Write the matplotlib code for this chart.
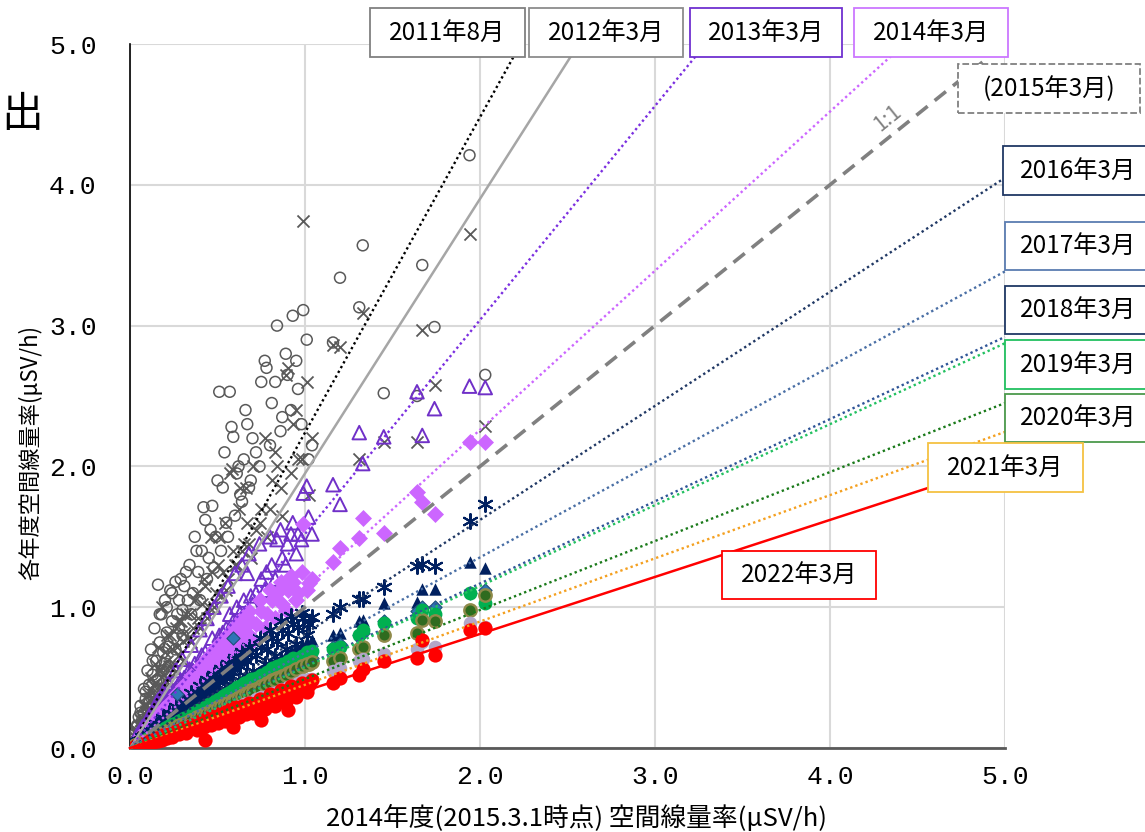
import matplotlib
matplotlib.use("Agg")
import matplotlib.pyplot as plt
from matplotlib.patches import Rectangle

plt.rcParams['font.family'] = ['Noto Sans CJK JP', 'DejaVu Sans']

# ---------------- data ----------------
# 2014年度(2015.3.1時点) 空間線量率 (shared x for all series)
x_2015 = [0.02, 0.03, 0.04, 0.05, 0.05, 0.06, 0.07, 0.08, 0.08, 0.09,
          0.10, 0.10, 0.11, 0.12, 0.12, 0.13, 0.14, 0.14, 0.15, 0.16,
          0.16, 0.17, 0.18, 0.18, 0.19, 0.20, 0.20, 0.21, 0.22, 0.23,
          0.24, 0.25, 0.26, 0.27, 0.28, 0.29, 0.30, 0.31, 0.33, 0.34,
          0.36, 0.37, 0.39, 0.41, 0.43, 0.45, 0.47, 0.49, 0.51, 0.53,
          0.55, 0.57, 0.59, 0.61, 0.63, 0.65, 0.67, 0.69, 0.72, 0.75,
          0.78, 0.81, 0.84, 0.87, 0.90, 0.93, 0.96, 0.99, 1.02, 1.16,
          1.20, 1.31, 1.33, 1.45, 1.64, 1.67, 1.74, 1.94, 2.03,
          0.04, 0.06, 0.07, 0.09, 0.11, 0.13, 0.15, 0.17, 0.19, 0.21,
          0.22, 0.24, 0.26, 0.28, 0.30, 0.32, 0.35, 0.38, 0.40, 0.42,
          0.44, 0.46, 0.48, 0.50, 0.52, 0.54, 0.56, 0.58, 0.60, 0.62,
          0.64, 0.66, 0.68, 0.70, 0.74, 0.77, 0.80, 0.83, 0.86, 0.89,
          0.92, 0.95, 0.98, 1.01, 1.04]

y_2011_08 = [0.06, 0.10, 0.15, 0.22, 0.12, 0.30, 0.20, 0.42, 0.25, 0.35,
             0.55, 0.28, 0.45, 0.70, 0.36, 0.52, 0.85, 0.40, 0.62, 1.16,
             0.48, 0.75, 0.95, 0.55, 0.68, 1.05, 0.60, 0.82, 0.72, 1.12,
             0.90, 0.78, 1.18, 0.95, 0.85, 1.20, 0.98, 1.15, 1.05, 1.30,
             1.10, 1.50, 1.25, 1.40, 1.62, 1.35, 1.72, 1.50, 2.53, 1.85,
             1.60, 2.53, 2.21, 1.95, 1.80, 2.05, 2.30, 1.90, 2.10, 2.60,
             2.70, 2.45, 3.00, 2.35, 2.65, 3.07, 2.55, 3.11, 2.05, 2.88,
             3.34, 3.13, 3.57, 2.52, 2.50, 3.43, 2.99, 4.21, 2.65,
             0.16, 0.25, 0.18, 0.40, 0.32, 0.62, 0.48, 0.95, 0.55, 1.00,
             0.58, 1.10, 0.70, 1.05, 0.80, 1.25, 0.95, 1.40, 1.05, 1.71,
             1.20, 1.55, 1.28, 1.90, 1.40, 2.10, 1.50, 2.28, 1.65, 2.00,
             1.75, 2.40, 1.85, 2.20, 2.00, 2.75, 2.15, 2.60, 2.25, 2.80,
             2.40, 2.75, 2.30, 2.90, 2.15]

y_2012_03 = [0.05, 0.08, 0.12, 0.16, 0.10, 0.22, 0.16, 0.30, 0.20, 0.26,
             0.38, 0.22, 0.34, 0.50, 0.28, 0.40, 0.60, 0.32, 0.46, 0.72,
             0.38, 0.56, 1.00, 0.44, 0.52, 0.68, 0.48, 0.62, 0.58, 0.80,
             0.70, 0.60, 0.85, 0.72, 0.66, 0.90, 0.76, 0.82, 0.78, 0.95,
             0.85, 1.05, 0.92, 1.02, 1.15, 1.00, 1.25, 1.10, 1.50, 1.25,
             1.12, 1.95, 1.40, 1.30, 1.85, 1.45, 1.60, 1.35, 1.55, 1.70,
             1.50, 1.90, 2.00, 1.65, 2.70, 2.30, 2.05, 3.74, 1.80, 2.86,
             2.85, 2.05, 3.09, 2.17, 2.17, 2.97, 2.58, 3.65, 2.29,
             0.12, 0.20, 0.14, 0.30, 0.25, 0.45, 0.36, 0.55, 0.42, 0.80,
             0.48, 0.70, 0.55, 0.90, 0.62, 0.95, 0.75, 1.10, 0.85, 1.20,
             0.92, 1.50, 1.00, 1.30, 1.08, 1.60, 1.20, 1.98, 1.30, 1.70,
             1.40, 1.85, 1.45, 2.00, 1.60, 2.20, 1.70, 2.10, 1.85, 2.65,
             1.95, 2.40, 2.05, 2.60, 2.20]

y_2013_03 = [0.04, 0.06, 0.09, 0.11, 0.07, 0.13, 0.11, 0.16, 0.13, 0.15,
             0.20, 0.15, 0.19, 0.24, 0.18, 0.22, 0.28, 0.21, 0.26, 0.34,
             0.24, 0.29, 0.36, 0.28, 0.31, 0.38, 0.30, 0.34, 0.35, 0.40,
             0.38, 0.36, 0.42, 0.44, 0.41, 0.48, 0.45, 0.50, 0.50, 0.56,
             0.55, 0.60, 0.58, 0.66, 0.68, 0.66, 0.78, 0.72, 0.80, 0.82,
             0.85, 0.95, 0.90, 1.00, 0.96, 1.05, 1.24, 1.08, 1.10, 1.20,
             1.25, 1.30, 1.48, 1.35, 1.45, 1.60, 1.52, 1.81, 1.64, 1.87,
             1.73, 2.24, 2.02, 2.21, 2.53, 2.22, 2.41, 2.57, 2.56,
             0.09, 0.09, 0.15, 0.13, 0.23, 0.19, 0.32, 0.25, 0.40, 0.30,
             0.46, 0.35, 0.55, 0.41, 0.63, 0.46, 0.73, 0.55, 0.84, 0.61,
             0.92, 0.67, 1.00, 0.73, 1.08, 0.78, 1.15, 0.84, 1.24, 0.90,
             1.30, 0.96, 1.38, 1.02, 1.45, 1.12, 1.50, 1.20, 1.55, 1.30,
             1.52, 1.38, 1.48, 1.86, 1.52]

y_2014_03 = [0.03, 0.04, 0.05, 0.06, 0.07, 0.08, 0.08, 0.10, 0.09, 0.11,
             0.13, 0.11, 0.14, 0.15, 0.14, 0.16, 0.18, 0.16, 0.19, 0.21,
             0.19, 0.21, 0.24, 0.21, 0.24, 0.27, 0.24, 0.27, 0.28, 0.31,
             0.30, 0.33, 0.33, 0.36, 0.35, 0.38, 0.37, 0.41, 0.42, 0.45,
             0.46, 0.49, 0.50, 0.54, 0.55, 0.59, 0.60, 0.64, 0.65, 0.70,
             0.70, 0.75, 0.74, 0.80, 0.78, 0.85, 0.82, 0.90, 0.88, 0.97,
             0.95, 1.05, 1.10, 1.02, 1.12, 1.18, 1.10, 1.59, 1.17, 1.32,
             1.42, 1.49, 1.63, 1.53, 1.82, 1.75, 1.66, 2.17, 2.17,
             0.06, 0.07, 0.10, 0.10, 0.16, 0.14, 0.22, 0.19, 0.28, 0.23,
             0.32, 0.27, 0.38, 0.31, 0.44, 0.35, 0.51, 0.42, 0.58, 0.46,
             0.64, 0.51, 0.70, 0.55, 0.75, 0.59, 0.81, 0.64, 0.87, 0.68,
             0.92, 0.73, 0.97, 0.77, 1.05, 0.85, 1.12, 0.92, 1.18, 0.98,
             1.22, 1.05, 1.25, 1.12, 1.20]

y_2016_03 = [0.02, 0.03, 0.04, 0.05, 0.04, 0.05, 0.06, 0.07, 0.07, 0.08,
             0.09, 0.08, 0.10, 0.11, 0.10, 0.12, 0.13, 0.12, 0.14, 0.15,
             0.14, 0.16, 0.17, 0.15, 0.17, 0.19, 0.17, 0.20, 0.21, 0.21,
             0.23, 0.24, 0.25, 0.24, 0.27, 0.28, 0.27, 0.30, 0.31, 0.33,
             0.33, 0.36, 0.36, 0.40, 0.40, 0.44, 0.43, 0.48, 0.47, 0.52,
             0.50, 0.55, 0.54, 0.60, 0.58, 0.64, 0.62, 0.68, 0.66, 0.72,
             0.70, 0.78, 0.76, 0.84, 0.82, 0.88, 0.86, 0.92, 0.88, 0.95,
             1.00, 1.06, 1.06, 1.14, 1.29, 1.31, 1.29, 1.61, 1.73,
             0.045, 0.05, 0.08, 0.07, 0.12, 0.10, 0.17, 0.13, 0.21, 0.16,
             0.25, 0.19, 0.29, 0.22, 0.33, 0.25, 0.39, 0.30, 0.44, 0.33,
             0.48, 0.36, 0.52, 0.39, 0.56, 0.42, 0.60, 0.45, 0.64, 0.48,
             0.68, 0.51, 0.72, 0.55, 0.78, 0.60, 0.84, 0.65, 0.90, 0.70,
             0.94, 0.74, 0.96, 0.80, 0.93]

y_2017_03 = [0.02, 0.02, 0.03, 0.04, 0.03, 0.04, 0.05, 0.06, 0.05, 0.06,
             0.07, 0.07, 0.08, 0.09, 0.08, 0.09, 0.10, 0.10, 0.11, 0.12,
             0.11, 0.12, 0.13, 0.12, 0.14, 0.15, 0.14, 0.15, 0.16, 0.17,
             0.17, 0.18, 0.19, 0.19, 0.20, 0.21, 0.21, 0.23, 0.24, 0.25,
             0.26, 0.27, 0.28, 0.30, 0.31, 0.33, 0.34, 0.36, 0.37, 0.39,
             0.40, 0.42, 0.43, 0.45, 0.46, 0.48, 0.49, 0.51, 0.52, 0.55,
             0.56, 0.59, 0.60, 0.63, 0.64, 0.67, 0.68, 0.70, 0.71, 0.80,
             0.82, 0.90, 0.91, 1.03, 1.04, 1.13, 1.13, 1.32, 1.28,
             0.03, 0.04, 0.05, 0.07, 0.08, 0.10, 0.11, 0.13, 0.14, 0.16,
             0.16, 0.18, 0.19, 0.21, 0.22, 0.24, 0.26, 0.28, 0.30, 0.31,
             0.33, 0.34, 0.36, 0.37, 0.39, 0.40, 0.42, 0.43, 0.45, 0.46,
             0.48, 0.49, 0.51, 0.52, 0.55, 0.57, 0.60, 0.62, 0.64, 0.66,
             0.69, 0.71, 0.73, 0.75, 0.77]

y_2018_03 = [0.01, 0.02, 0.03, 0.03, 0.03, 0.04, 0.04, 0.05, 0.05, 0.06,
             0.06, 0.06, 0.07, 0.08, 0.07, 0.08, 0.09, 0.09, 0.10, 0.11,
             0.10, 0.11, 0.12, 0.11, 0.12, 0.13, 0.13, 0.14, 0.14, 0.15,
             0.16, 0.16, 0.17, 0.38, 0.18, 0.19, 0.19, 0.20, 0.21, 0.22,
             0.23, 0.24, 0.25, 0.26, 0.27, 0.29, 0.30, 0.31, 0.33, 0.34,
             0.35, 0.37, 0.78, 0.39, 0.41, 0.42, 0.43, 0.45, 0.46, 0.48,
             0.50, 0.52, 0.54, 0.56, 0.58, 0.60, 0.61, 0.63, 0.65, 0.72,
             0.74, 0.80, 0.82, 0.90, 0.97, 1.00, 1.00, 1.10, 1.12,
             0.02, 0.04, 0.04, 0.06, 0.07, 0.08, 0.09, 0.11, 0.12, 0.13,
             0.14, 0.15, 0.16, 0.17, 0.19, 0.20, 0.22, 0.24, 0.25, 0.26,
             0.27, 0.29, 0.30, 0.31, 0.32, 0.34, 0.35, 0.36, 0.37, 0.38,
             0.40, 0.41, 0.42, 0.43, 0.46, 0.48, 0.50, 0.51, 0.53, 0.55,
             0.57, 0.59, 0.61, 0.63, 0.64]

y_2019_03 = [0.01, 0.02, 0.03, 0.03, 0.03, 0.04, 0.05, 0.05, 0.05, 0.06,
             0.07, 0.06, 0.07, 0.08, 0.08, 0.09, 0.10, 0.09, 0.10, 0.11,
             0.10, 0.11, 0.13, 0.12, 0.13, 0.14, 0.13, 0.15, 0.15, 0.16,
             0.17, 0.17, 0.18, 0.18, 0.19, 0.20, 0.20, 0.21, 0.22, 0.23,
             0.25, 0.25, 0.27, 0.28, 0.29, 0.31, 0.32, 0.34, 0.35, 0.37,
             0.38, 0.40, 0.41, 0.43, 0.44, 0.46, 0.47, 0.49, 0.50, 0.52,
             0.54, 0.57, 0.58, 0.60, 0.62, 0.64, 0.63, 0.65, 0.66, 0.70,
             0.72, 0.80, 0.84, 0.89, 0.92, 0.98, 0.95, 1.10, 1.03,
             0.03, 0.04, 0.05, 0.06, 0.07, 0.09, 0.10, 0.11, 0.13, 0.14,
             0.15, 0.16, 0.17, 0.19, 0.20, 0.21, 0.23, 0.25, 0.27, 0.28,
             0.29, 0.31, 0.32, 0.33, 0.35, 0.36, 0.37, 0.39, 0.40, 0.41,
             0.43, 0.44, 0.45, 0.47, 0.49, 0.52, 0.53, 0.56, 0.57, 0.60,
             0.61, 0.63, 0.65, 0.68, 0.69]

y_2020_03 = [0.01, 0.02, 0.02, 0.03, 0.02, 0.03, 0.04, 0.04, 0.04, 0.05,
             0.06, 0.05, 0.06, 0.07, 0.06, 0.07, 0.08, 0.07, 0.08, 0.09,
             0.08, 0.09, 0.10, 0.09, 0.10, 0.11, 0.10, 0.12, 0.12, 0.13,
             0.13, 0.14, 0.14, 0.15, 0.15, 0.16, 0.16, 0.17, 0.18, 0.19,
             0.20, 0.20, 0.22, 0.23, 0.24, 0.25, 0.26, 0.28, 0.29, 0.30,
             0.31, 0.33, 0.34, 0.35, 0.36, 0.38, 0.39, 0.41, 0.42, 0.44,
             0.46, 0.48, 0.50, 0.51, 0.53, 0.55, 0.56, 0.58, 0.60, 0.62,
             0.64, 0.70, 0.72, 0.80, 0.82, 0.91, 0.90, 0.98, 1.09,
             0.02, 0.03, 0.04, 0.05, 0.06, 0.07, 0.09, 0.10, 0.11, 0.12,
             0.13, 0.14, 0.15, 0.16, 0.17, 0.18, 0.20, 0.22, 0.23, 0.24,
             0.25, 0.26, 0.27, 0.29, 0.30, 0.31, 0.32, 0.33, 0.34, 0.36,
             0.37, 0.38, 0.39, 0.40, 0.42, 0.45, 0.46, 0.48, 0.50, 0.52,
             0.54, 0.56, 0.58, 0.60, 0.61]

y_2021_03 = [0.01, 0.01, 0.02, 0.02, 0.02, 0.03, 0.03, 0.04, 0.03, 0.04,
             0.05, 0.04, 0.05, 0.05, 0.05, 0.06, 0.06, 0.06, 0.07, 0.07,
             0.07, 0.08, 0.08, 0.08, 0.09, 0.09, 0.09, 0.10, 0.10, 0.11,
             0.11, 0.11, 0.12, 0.12, 0.13, 0.13, 0.14, 0.14, 0.15, 0.16,
             0.17, 0.17, 0.18, 0.19, 0.20, 0.21, 0.22, 0.23, 0.24, 0.25,
             0.26, 0.27, 0.28, 0.29, 0.30, 0.31, 0.32, 0.33, 0.35, 0.36,
             0.37, 0.39, 0.40, 0.42, 0.43, 0.45, 0.46, 0.48, 0.49, 0.55,
             0.57, 0.62, 0.63, 0.67, 0.70, 0.75, 0.72, 0.89, 0.86,
             0.02, 0.03, 0.03, 0.04, 0.05, 0.06, 0.07, 0.08, 0.09, 0.10,
             0.10, 0.11, 0.12, 0.13, 0.14, 0.15, 0.16, 0.18, 0.19, 0.20,
             0.21, 0.22, 0.22, 0.23, 0.24, 0.25, 0.26, 0.27, 0.28, 0.29,
             0.30, 0.31, 0.32, 0.33, 0.35, 0.36, 0.38, 0.39, 0.40, 0.42,
             0.43, 0.45, 0.46, 0.48, 0.49]

y_2022_03 = [0.01, 0.01, 0.02, 0.02, 0.01, 0.02, 0.03, 0.03, 0.02, 0.03,
             0.04, 0.03, 0.04, 0.05, 0.04, 0.05, 0.06, 0.05, 0.06, 0.07,
             0.05, 0.07, 0.08, 0.06, 0.08, 0.09, 0.07, 0.09, 0.09, 0.10,
             0.10, 0.11, 0.11, 0.12, 0.12, 0.13, 0.12, 0.14, 0.14, 0.15,
             0.16, 0.15, 0.17, 0.18, 0.06, 0.19, 0.20, 0.22, 0.21, 0.24,
             0.23, 0.25, 0.15, 0.27, 0.26, 0.29, 0.28, 0.30, 0.32, 0.20,
             0.34, 0.36, 0.35, 0.38, 0.27, 0.40, 0.41, 0.43, 0.45, 0.46,
             0.50, 0.52, 0.56, 0.62, 0.64, 0.77, 0.66, 0.84, 0.85,
             0.02, 0.02, 0.03, 0.03, 0.05, 0.04, 0.07, 0.06, 0.09, 0.07,
             0.10, 0.08, 0.12, 0.10, 0.14, 0.11, 0.16, 0.13, 0.19, 0.15,
             0.21, 0.16, 0.23, 0.18, 0.25, 0.19, 0.27, 0.21, 0.29, 0.22,
             0.30, 0.24, 0.32, 0.25, 0.35, 0.28, 0.38, 0.30, 0.41, 0.33,
             0.44, 0.36, 0.46, 0.40, 0.48]

# regression slopes (through origin) for each survey
line_labels = ['2011年8月', '2012年3月', '2013年3月', '2014年3月', '(2015年3月)',
               '2016年3月', '2017年3月', '2018年3月', '2019年3月', '2020年3月',
               '2021年3月', '2022年3月']
line_slopes = [2.24, 1.95, 1.52, 1.13, 1.00, 0.81, 0.677, 0.584, 0.575, 0.49, 0.449, 0.405]

tick_values = [0, 1, 2, 3, 4, 5]
tick_labels = ['0.0', '1.0', '2.0', '3.0', '4.0', '5.0']

x_label = '2014年度(2015.3.1時点) 空間線量率(μSV/h)'
y_label = '各年度空間線量率(μSV/h)'

# ---------------- figure ----------------
W, H = 1145, 832
fig = plt.figure(figsize=(W / 100, H / 100), dpi=100)
ax = fig.add_axes([130 / W, (H - 748) / H, 875 / W, 704 / H])

series = [
    (y_2011_08, dict(marker='o', s=62, facecolors='none', edgecolors='#595959', linewidths=1.1)),
    (y_2012_03, dict(marker='x', s=75, c='#595959', linewidths=1.3)),
    (y_2013_03, dict(marker='^', s=95, facecolors='none', edgecolors='#7030C8', linewidths=1.4)),
    (y_2014_03, dict(marker='D', s=75, c='#CC66FF', linewidths=0)),
    (y_2016_03, dict(marker=(6, 2, 0), s=115, c='#002060', linewidths=1.5)),
    (y_2017_03, dict(marker='^', s=80, c='#002060', linewidths=0)),
    (y_2018_03, dict(marker='D', s=45, c='#2E75B6', edgecolors='#1F4E79', linewidths=0.8)),
    (y_2019_03, dict(marker='o', s=100, c='#00B050', linewidths=0)),
    (y_2020_03, dict(marker='o', s=80, c='#2F6B1F', edgecolors='#8F8A4A', linewidths=1.7)),
    (y_2021_03, dict(marker='o', s=95, c='#B3A7C9', linewidths=0)),
    (y_2022_03, dict(marker='o', s=105, c='#FF0000', linewidths=0)),
]
for z, (ys, kw) in enumerate(series):
    ax.scatter(x_2015, ys, zorder=3 + z * 0.1, **kw)

line_styles = [
    dict(color='#000000', ls=(0, (1, 1.3)), lw=1.7),
    dict(color='#A6A6A6', ls='-', lw=1.8),
    dict(color='#7B2FE0', ls=(0, (1, 1.3)), lw=1.7),
    dict(color='#CC66FF', ls=(0, (1, 1.3)), lw=1.7),
    dict(color='#808080', ls=(0, (4, 2.5)), lw=2.6),
    dict(color='#203864', ls=(0, (1, 1.3)), lw=1.7),
    dict(color='#4A6FA5', ls=(0, (1, 1.3)), lw=1.7),
    dict(color='#2F5597', ls=(0, (1, 1.3)), lw=1.7),
    dict(color='#22C060', ls=(0, (1, 1.3)), lw=1.7),
    dict(color='#1A7A1A', ls=(0, (1, 1.3)), lw=1.7),
    dict(color='#F4A020', ls=(0, (1, 1.3)), lw=1.7),
    dict(color='#FF0000', ls='-', lw=1.8),
]
for k, (m, st) in enumerate(zip(line_slopes, line_styles)):
    x_end = min(5.0, 5.0 / m)
    if k == 4:
        x_end = 4.9
    ax.plot([0, x_end], [0, m * x_end], zorder=6, clip_on=False, **st)

ax.text(4.33, 4.47, '1:1', rotation=39, color='#808080', fontsize=15,
        ha='center', va='center', zorder=7)

ax.set_xlim(0, 5)
ax.set_ylim(0, 5)
ax.set_xticks(tick_values)
ax.set_yticks(tick_values)
ax.set_xticklabels(tick_labels, family='Liberation Mono', fontsize=19)
ax.set_yticklabels(tick_labels, family='Liberation Mono', fontsize=19)
ax.tick_params(axis='both', length=0)
ax.tick_params(axis='y', pad=24)
ax.tick_params(axis='x', pad=12)
ax.grid(True, color='#D9D9D9', lw=1.5, zorder=0)
ax.set_axisbelow(True)
for side in ['top', 'right']:
    ax.spines[side].set_visible(False)
ax.spines['left'].set_color('#000000')
ax.spines['left'].set_linewidth(1.2)
ax.spines['bottom'].set_color('#595959')
ax.spines['bottom'].set_linewidth(2.0)

fig.text(577 / W, 1 - 818 / H, x_label, fontsize=18.5, ha='center', va='center')
fig.text(30 / W, 1 - 452 / H, y_label, fontsize=16, ha='center', va='center', rotation=90)
fig.text(22 / W, 1 - 116 / H, '出', fontsize=30, ha='center', va='center')

# ---------------- label boxes (pixel positions) ----------------
boxes = [
    ('2011年8月', (370, 8, 525, 57), '#808080', '-'),
    ('2012年3月', (529, 8, 683, 57), '#8C8C8C', '-'),
    ('2013年3月', (690, 8, 842, 57), '#7030D0', '-'),
    ('2014年3月', (854, 8, 1008, 57), '#CC77FF', '-'),
    ('(2015年3月)', (958, 64, 1140, 113), '#808080', '--'),
    ('2016年3月', (1003, 146, 1155, 195), '#203864', '-'),
    ('2017年3月', (1005, 222, 1155, 270), '#5B7DB1', '-'),
    ('2018年3月', (1005, 286, 1155, 334), '#1F3864', '-'),
    ('2019年3月', (1005, 340, 1155, 389), '#22C060', '-'),
    ('2020年3月', (1005, 394, 1155, 442), '#4C9A4C', '-'),
    ('2021年3月', (928, 443, 1083, 492), '#F5C242', '-'),
    ('2022年3月', (722, 551, 876, 599), '#FF0000', '-'),
]
for text, (x0, y0, x1, y1), ec, ls in boxes:
    rect = Rectangle((x0 / W, 1 - y1 / H), (x1 - x0) / W, (y1 - y0) / H,
                     transform=fig.transFigure, facecolor='white', edgecolor=ec,
                     linewidth=1.3, linestyle=ls, zorder=10)
    fig.patches.append(rect)
    cx = (x0 + x1) / 2
    if x1 > W:
        cx = 1078
    fig.text(cx / W, 1 - ((y0 + y1) / 2 + 1) / H, text, fontsize=17.5,
             ha='center', va='center', zorder=11)

fig.savefig('out.png', dpi=100)
